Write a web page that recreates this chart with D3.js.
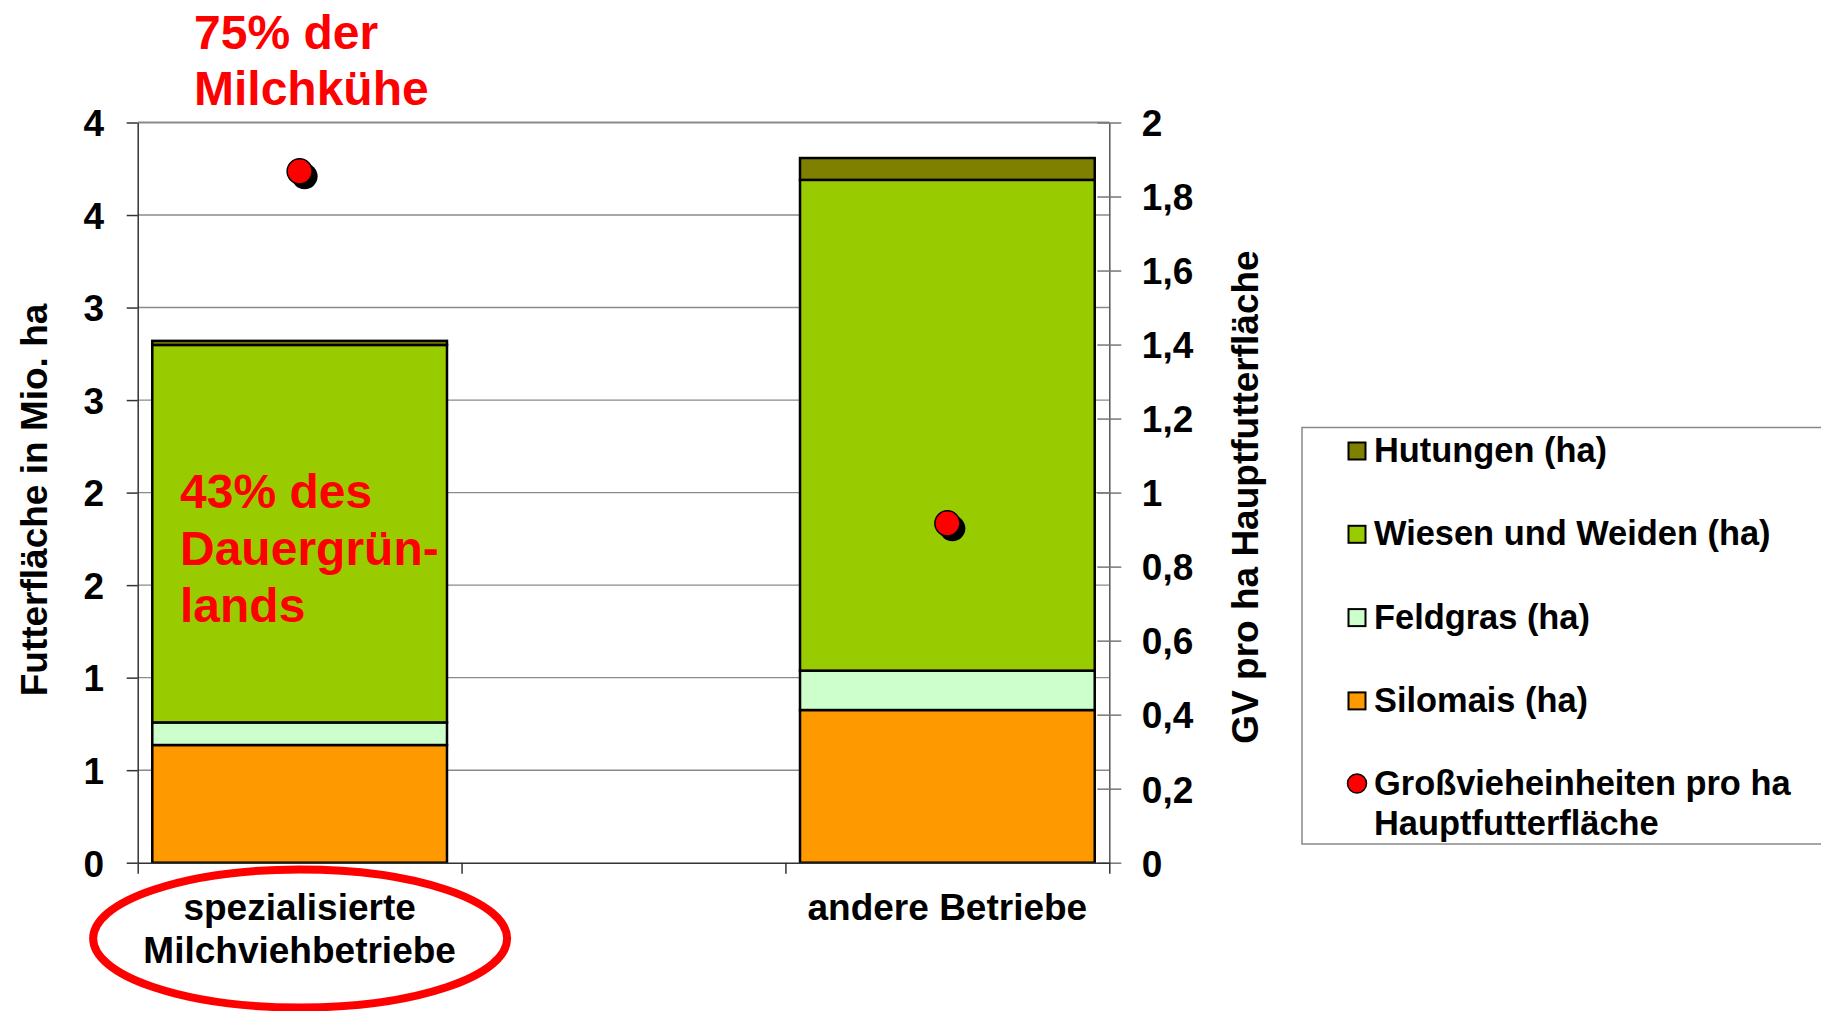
<!DOCTYPE html>
<head>
<meta charset="utf-8">
<script src="https://d3js.org/d3.v7.min.js"></script>
<style>
body{ margin:0; background:#fff; }
svg{ display:block; }
text{
   font-family: Arial, "Liberation Sans", sans-serif;
   font-weight: 700;
   fill: #000;
}
.axis text{ font-size: 37px; }
.axis path.domain{ stroke: #333; stroke-width: 1.5; }
.axis .tick line{ stroke: #333; stroke-width: 1.5; }
text.axisTitle{ font-size: 37px; }
text.catLabel{ font-size: 37px; }
text.note{ font-size: 48px; fill: #ff0000; }
text.legendText{ font-size: 34.4px; }
line.grid{ stroke: #8a8a8a; stroke-width: 1.4; }
rect.bar{ stroke: #000; stroke-width: 2.5; }
</style>
</head>
<body>
<script>
const width = 1821;
const height = 1011;

// three slots on the x axis, the middle one stays empty
const categories = ["spezialisierte Milchviehbetriebe", "", "andere Betriebe"];
const categoryLines = [["spezialisierte", "Milchviehbetriebe"], [], ["andere Betriebe"]];

// Futterflaeche in Mio. ha
const silomais = [0.636, null, 0.825];
const feldgras = [0.122, null, 0.213];
const wiesen   = [2.040, null, 2.652];
const hutungen = [0.022, null, 0.118];

// GV pro ha Hauptfutterflaeche (right axis)
const gvProHa = [1.868, null, 0.917];

const leftTicks = [0, 0.5, 1, 1.5, 2, 2.5, 3, 3.5, 4];
const leftTickLabels = ["0", "1", "1", "2", "2", "3", "3", "4", "4"];
const rightTicks = [0, 0.2, 0.4, 0.6, 0.8, 1, 1.2, 1.4, 1.6, 1.8, 2];
const rightTickLabels = ["0", "0,2", "0,4", "0,6", "0,8", "1", "1,2", "1,4", "1,6", "1,8", "2"];

const seriesKeys = ["silomais", "feldgras", "wiesen", "hutungen"];
const seriesNames = {
   hutungen: "Hutungen (ha)",
   wiesen: "Wiesen und Weiden (ha)",
   feldgras: "Feldgras (ha)",
   silomais: "Silomais (ha)"
};
const colours = {
   silomais: "#ff9900",
   feldgras: "#ccffcc",
   wiesen: "#99cc00",
   hutungen: "#808000"
};

const plot = { left: 137.7, right: 1109.3, top: 122.5, bottom: 862.7 };

const svg = d3.select("body").append("svg")
   .attr("width", width)
   .attr("height", height);

const x = d3.scaleBand()
   .domain(categories)
   .range([plot.left, plot.right])
   .paddingInner(0.09)
   .paddingOuter(0.045);

// slot edges for the category tick marks
const xEdge = d3.scaleLinear()
   .domain([0, categories.length])
   .range([plot.left, plot.right]);

const y = d3.scaleLinear().domain([0, 4]).range([plot.bottom, plot.top]);
const y2 = d3.scaleLinear().domain([0, 2]).range([plot.bottom, plot.top]);

// gridlines
svg.append("g").selectAll("line")
   .data(leftTicks.slice(1))
   .enter().append("line")
   .attr("class", "grid")
   .attr("x1", plot.left)
   .attr("x2", plot.right)
   .attr("y1", d => y(d))
   .attr("y2", d => y(d))
   .style("stroke-width", d => d == 4 ? 2.2 : 1.4);

// stacked bars
const rows = categories.map((c, i) => ({
   cat: c,
   silomais: silomais[i],
   feldgras: feldgras[i],
   wiesen: wiesen[i],
   hutungen: hutungen[i]
})).filter(r => r.silomais != null);

const stacked = d3.stack().keys(seriesKeys)(rows);

svg.append("g").selectAll("g")
   .data(stacked)
   .enter().append("g")
   .style("fill", d => colours[d.key])
   .selectAll("rect")
   .data(d => d)
   .enter().append("rect")
   .attr("class", "bar")
   .attr("x", d => x(d.data.cat))
   .attr("width", x.bandwidth())
   .attr("y", d => y(d[1]))
   .attr("height", d => y(d[0]) - y(d[1]));

// axes
const leftAxis = svg.append("g")
   .attr("class", "axis")
   .attr("transform", `translate(${plot.left},0)`)
   .call(d3.axisLeft(y)
      .tickValues(leftTicks)
      .tickFormat((d, i) => leftTickLabels[i])
      .tickSize(11)
      .tickSizeOuter(0)
      .tickPadding(22.5));
leftAxis.selectAll(".tick text").attr("dy", "0.36em");

const rightAxis = svg.append("g")
   .attr("class", "axis")
   .attr("transform", `translate(${plot.right},0)`)
   .call(d3.axisRight(y2)
      .tickValues(rightTicks)
      .tickFormat((d, i) => rightTickLabels[i])
      .tickSize(12)
      .tickSizeOuter(0)
      .tickPadding(20.5));
rightAxis.selectAll(".tick line").attr("x1", -12).style("stroke", "#777");
rightAxis.selectAll(".tick text").attr("dy", "0.36em");
rightAxis.select("path.domain").style("stroke", "#555");

svg.append("g")
   .attr("class", "axis")
   .attr("transform", `translate(0,${plot.bottom})`)
   .call(d3.axisBottom(xEdge)
      .tickValues(d3.range(categories.length + 1))
      .tickFormat("")
      .tickSize(11)
      .tickSizeOuter(0));

// category labels
categories.forEach((c, i) => {
   const t = svg.append("text")
      .attr("class", "catLabel")
      .attr("text-anchor", "middle");
   categoryLines[i].forEach((line, j) => {
      t.append("tspan")
         .attr("x", x(c) + x.bandwidth() / 2)
         .attr("y", 920 + j * 42.5)
         .text(line);
   });
});

// GV points with shadow
const pts = categories.map((c, i) => ({ cat: c, v: gvProHa[i] })).filter(d => d.v != null);
const ptG = svg.append("g");
ptG.selectAll("circle.shadow")
   .data(pts).enter().append("circle")
   .attr("cx", d => x(d.cat) + x.bandwidth() / 2 + 5)
   .attr("cy", d => y2(d.v) + 5)
   .attr("r", 13)
   .style("fill", "#000");
ptG.selectAll("circle.dot")
   .data(pts).enter().append("circle")
   .attr("cx", d => x(d.cat) + x.bandwidth() / 2)
   .attr("cy", d => y2(d.v))
   .attr("r", 12.5)
   .style("fill", "#ff0000")
   .style("stroke", "#000")
   .style("stroke-width", 1.5);

// axis titles
svg.append("text")
   .attr("class", "axisTitle")
   .attr("text-anchor", "middle")
   .attr("transform", "translate(47,500) rotate(-90)")
   .text("Futterfläche in Mio. ha");

svg.append("text")
   .attr("class", "axisTitle")
   .attr("text-anchor", "middle")
   .attr("transform", "translate(1258,497) rotate(-90)")
   .text("GV pro ha Hauptfutterfläche");

// red notes
const note1 = svg.append("text").attr("class", "note");
note1.append("tspan").attr("x", 194).attr("y", 48.5).text("75% der");
note1.append("tspan").attr("x", 194).attr("y", 104.5).text("Milchkühe");

const note2 = svg.append("text").attr("class", "note");
["43% des", "Dauergrün-", "lands"].forEach((s, j) => {
   note2.append("tspan").attr("x", 180).attr("y", 507.5 + j * 57).text(s);
});

svg.append("ellipse")
   .attr("cx", x(categories[0]) + x.bandwidth() / 2 + 0.5)
   .attr("cy", 938.5)
   .attr("rx", 207)
   .attr("ry", 69)
   .style("fill", "none")
   .style("stroke", "#ff0000")
   .style("stroke-width", 8);

// legend
const legend = svg.append("g");
legend.append("rect")
   .attr("x", 1302)
   .attr("y", 427.5)
   .attr("width", 600)
   .attr("height", 416.5)
   .style("fill", "#fff")
   .style("stroke", "#888")
   .style("stroke-width", 1.5);

["hutungen", "wiesen", "feldgras", "silomais"].forEach((k, i) => {
   const cy = 451 + i * 83.3;
   legend.append("rect")
      .attr("x", 1348.5)
      .attr("y", cy - 8.5)
      .attr("width", 17)
      .attr("height", 17)
      .style("fill", colours[k])
      .style("stroke", "#000")
      .style("stroke-width", 2);
   legend.append("text")
      .attr("class", "legendText")
      .attr("x", 1374)
      .attr("y", cy + 11)
      .text(seriesNames[k]);
});

legend.append("circle")
   .attr("cx", 1357)
   .attr("cy", 783.5)
   .attr("r", 9.5)
   .style("fill", "#ff0000")
   .style("stroke", "#000")
   .style("stroke-width", 1.5);
const lt = legend.append("text").attr("class", "legendText");
lt.append("tspan").attr("x", 1374).attr("y", 795).text("Großvieheinheiten pro ha");
lt.append("tspan").attr("x", 1374).attr("y", 835).text("Hauptfutterfläche");
</script>
</body>
